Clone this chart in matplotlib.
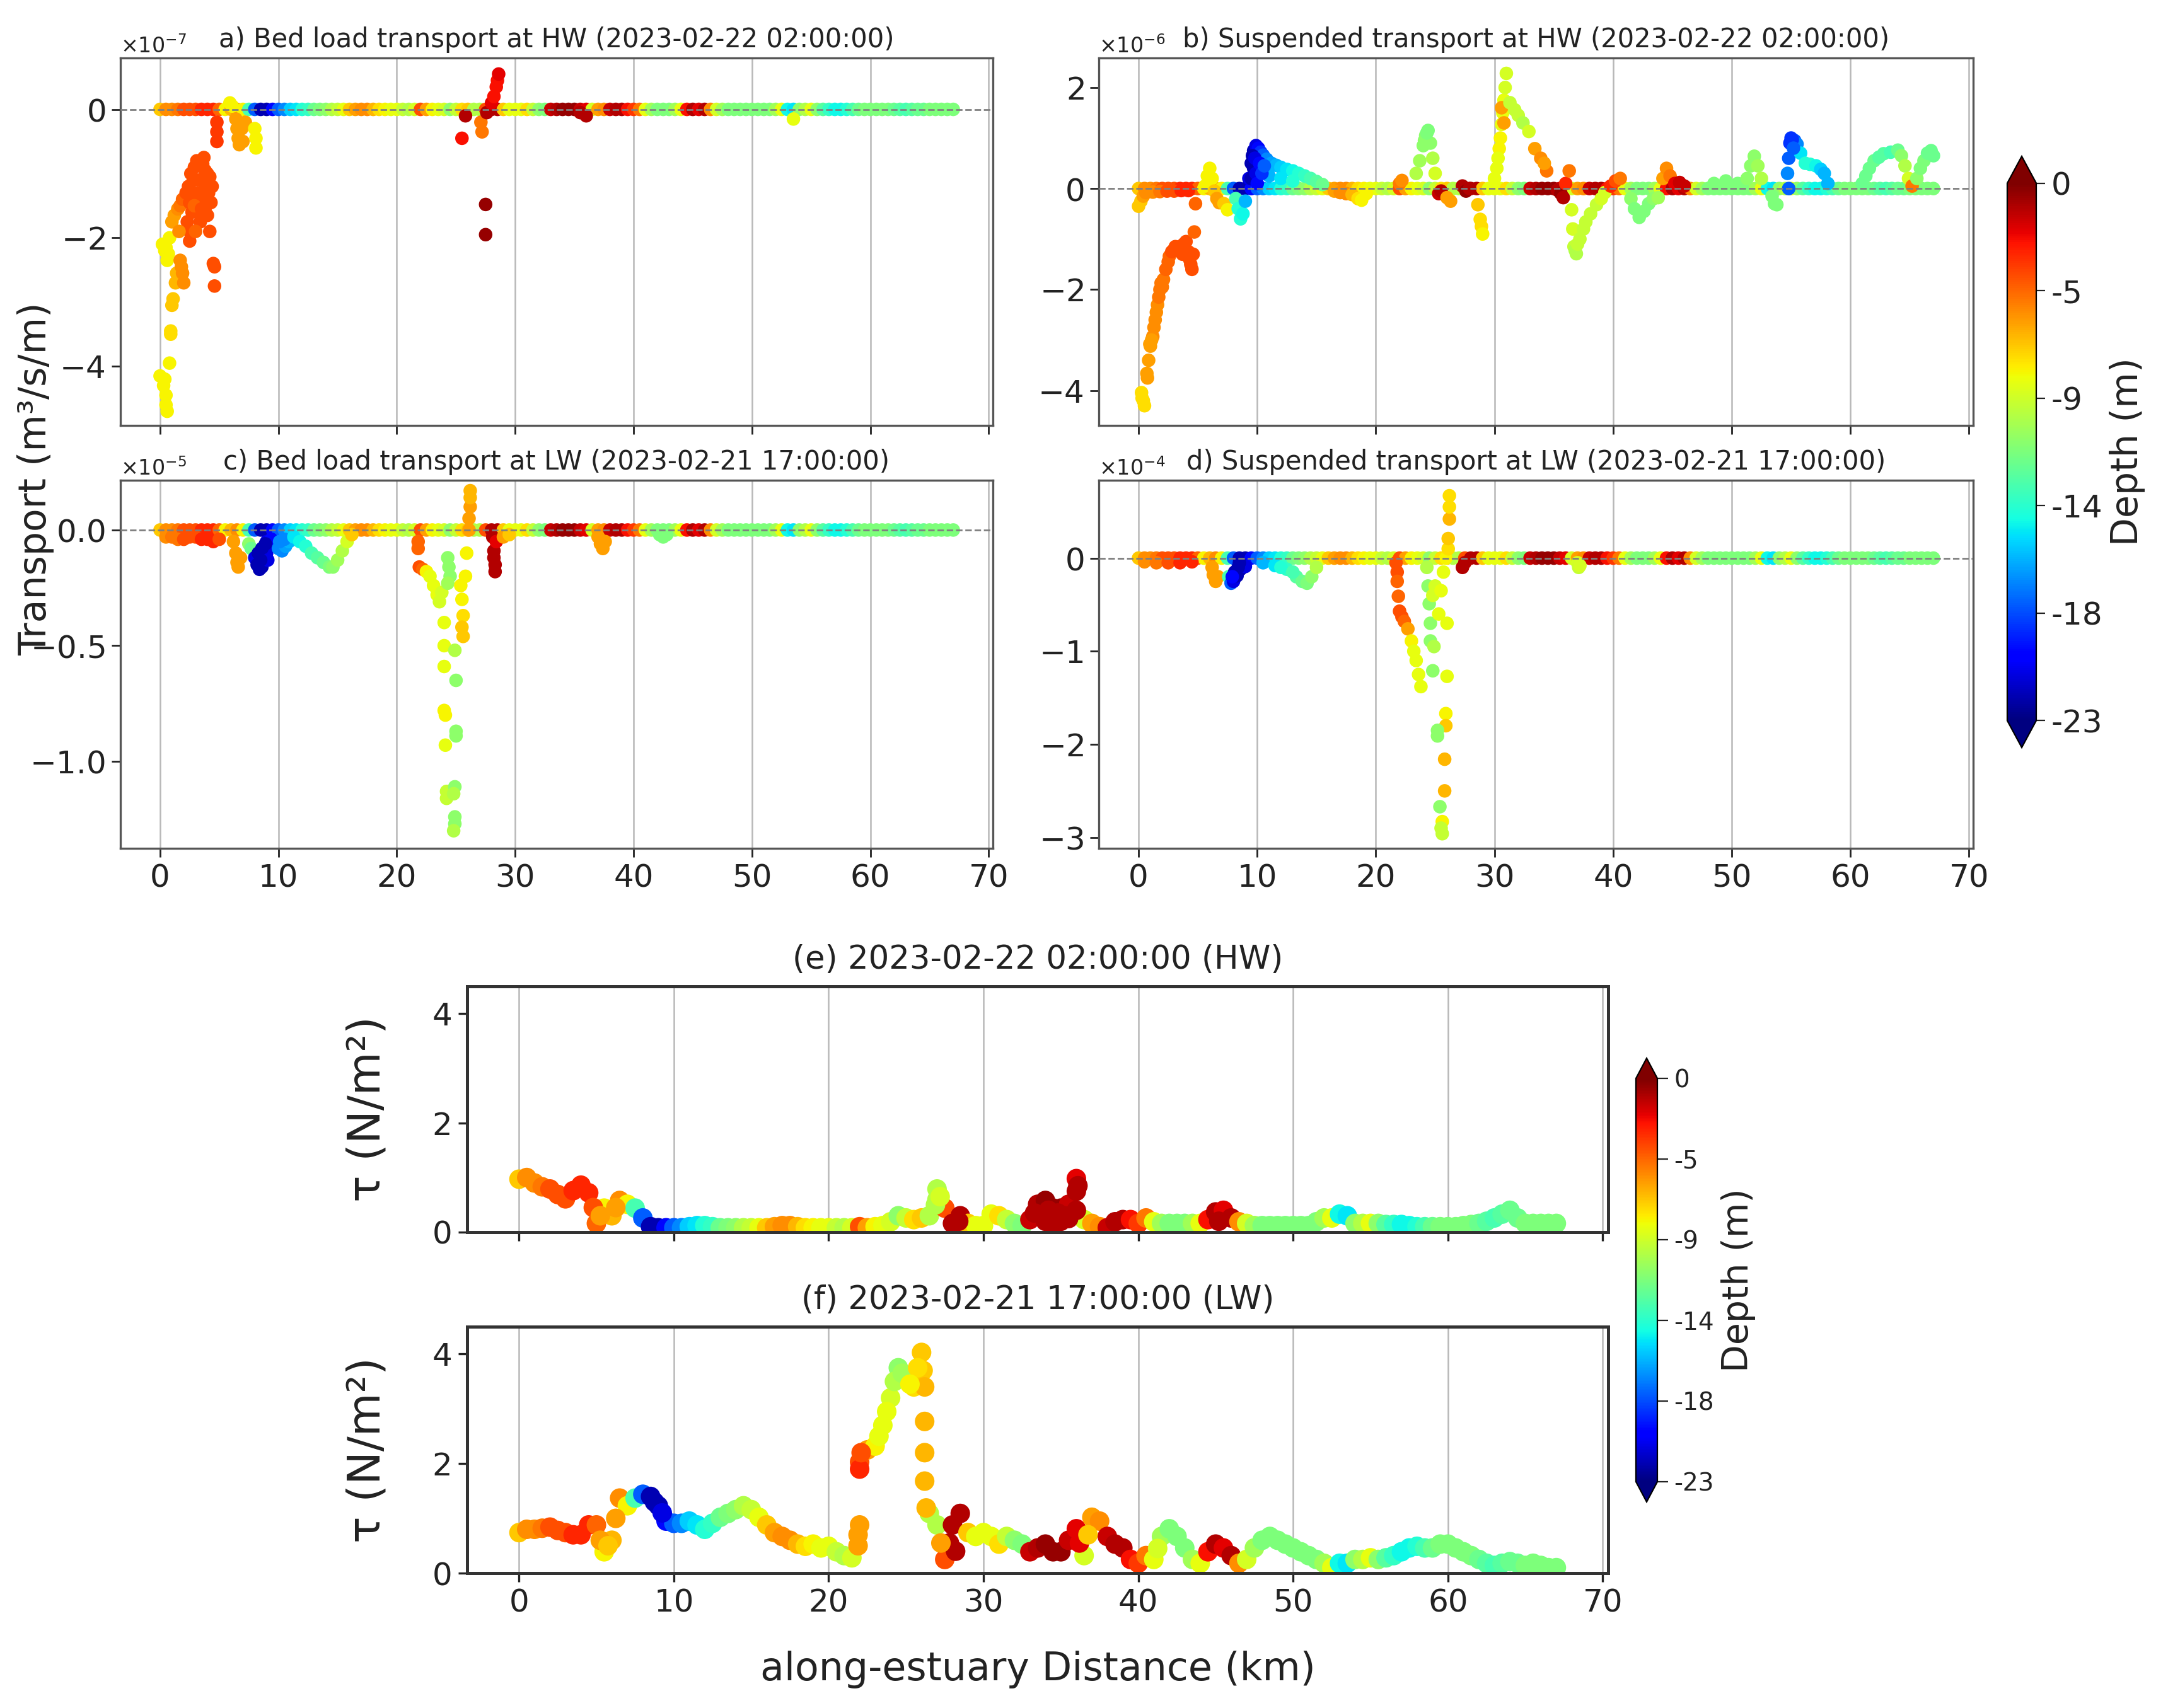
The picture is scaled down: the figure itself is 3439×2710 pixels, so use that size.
import numpy as np
import matplotlib
matplotlib.use("Agg")
import matplotlib.pyplot as plt
from matplotlib.colors import Normalize
from matplotlib.cm import ScalarMappable

# ---------------- data ----------------
dist_km = [0.0, 0.5, 1.0, 1.5, 2.0, 2.5, 3.0, 3.5, 4.0, 4.5, 5.0, 5.5, 6.0, 6.5, 7.0, 7.5, 8.0, 8.5, 9.0, 9.5,
           10.0, 10.5, 11.0, 11.5, 12.0, 12.5, 13.0, 13.5, 14.0, 14.5, 15.0, 15.5, 16.0, 16.5, 17.0, 17.5, 18.0, 18.5, 19.0, 19.5,
           20.0, 20.5, 21.0, 21.5, 22.0, 22.5, 23.0, 23.5, 24.0, 24.5, 25.0, 25.5, 26.0, 26.5, 27.0, 27.5, 28.0, 28.5, 29.0, 29.5,
           30.0, 30.5, 31.0, 31.5, 32.0, 32.5, 33.0, 33.5, 34.0, 34.5, 35.0, 35.5, 36.0, 36.5, 37.0, 37.5, 38.0, 38.5, 39.0, 39.5,
           40.0, 40.5, 41.0, 41.5, 42.0, 42.5, 43.0, 43.5, 44.0, 44.5, 45.0, 45.5, 46.0, 46.5, 47.0, 47.5, 48.0, 48.5, 49.0, 49.5,
           50.0, 50.5, 51.0, 51.5, 52.0, 52.5, 53.0, 53.5, 54.0, 54.5, 55.0, 55.5, 56.0, 56.5, 57.0, 57.5, 58.0, 58.5, 59.0, 59.5,
           60.0, 60.5, 61.0, 61.5, 62.0, 62.5, 63.0, 63.5, 64.0, 64.5, 65.0, 65.5, 66.0, 66.5, 67.0]

depth_m = [-7, -5.5, -5.5, -5, -4, -4, -4, -3, -3, -3, -4.5, -8, -6.5, -5.5, -8, -13, -18, -22, -22, -20,
           -18, -17, -15.5, -15, -14, -13.5, -12, -11.5, -11, -10, -9.5, -8.5, -7, -6, -5.5, -5.5, -6.5, -7.5, -8, -8.5,
           -8.5, -9.5, -10, -9, -4, -6, -8, -8.5, -9, -11, -9.5, -7.5, -7, -10, -10, -4, -1, -1, -7, -8.5,
           -8.5, -8.5, -7.5, -9.5, -11, -11.5, -1.5, -1, -0.5, -0.5, -0.5, -1.5, -2, -9, -6, -5.5, -1.5, -1, -1, -2.5,
           -3.5, -5, -8.5, -10.5, -11.5, -11.5, -11.5, -10.5, -8.5, -2.5, -1, -2, -1, -5.5, -9, -10.5, -11.5, -11.5, -11.5, -11.5,
           -11.5, -11.5, -11.5, -11.5, -10.5, -8.5, -14.5, -15, -11, -10, -8.5, -11, -12.5, -13.5, -14.5, -14.5, -14, -13, -12, -11.5,
           -11.5, -11.5, -11.5, -11.5, -12, -12.5, -13, -12.5, -12, -12, -11.5, -11.5, -11.5, -11.5, -11.5]

# bed shear stress (N/m2) along the grid
tau_hw = [0.97, 1.00, 0.90, 0.83, 0.79, 0.69, 0.61, 0.76, 0.86, 0.72, 0.16, 0.44, 0.30, 0.58, 0.51, 0.44, 0.26, 0.10, 0.08, 0.08,
          0.08, 0.08, 0.10, 0.12, 0.12, 0.10, 0.08, 0.08, 0.08, 0.08, 0.08, 0.08, 0.08, 0.10, 0.12, 0.12, 0.10, 0.08, 0.08, 0.08,
          0.08, 0.08, 0.08, 0.08, 0.10, 0.08, 0.10, 0.12, 0.19, 0.30, 0.26, 0.23, 0.26, 0.30, 0.79, 0.44, 0.16, 0.30, 0.16, 0.12,
          0.12, 0.33, 0.30, 0.23, 0.16, 0.12, 0.23, 0.51, 0.58, 0.44, 0.44, 0.51, 0.98, 0.23, 0.16, 0.10, 0.08, 0.19, 0.23, 0.23,
          0.16, 0.26, 0.19, 0.16, 0.16, 0.16, 0.16, 0.16, 0.16, 0.23, 0.37, 0.40, 0.26, 0.19, 0.16, 0.12, 0.12, 0.12, 0.12, 0.12,
          0.12, 0.12, 0.12, 0.19, 0.26, 0.26, 0.33, 0.30, 0.16, 0.16, 0.16, 0.16, 0.14, 0.14, 0.14, 0.12, 0.10, 0.10, 0.10, 0.10,
          0.10, 0.10, 0.12, 0.14, 0.16, 0.20, 0.26, 0.33, 0.40, 0.26, 0.16, 0.16, 0.16, 0.16, 0.16]

tau_lw = [0.74, 0.80, 0.80, 0.82, 0.84, 0.78, 0.74, 0.70, 0.70, 0.88, 0.88, 0.39, 0.60, 1.37, 1.23, 1.37, 1.44, 1.40, 1.23, 0.95,
          0.91, 0.91, 0.95, 0.88, 0.80, 0.91, 1.02, 1.09, 1.16, 1.23, 1.16, 1.02, 0.88, 0.74, 0.67, 0.60, 0.53, 0.49, 0.53, 0.46,
          0.49, 0.39, 0.32, 0.28, 2.03, 2.25, 2.32, 2.70, 3.20, 3.75, 3.54, 3.40, 4.03, 1.09, 0.88, 0.25, 0.88, 1.09, 0.74, 0.67,
          0.74, 0.67, 0.53, 0.67, 0.60, 0.53, 0.39, 0.46, 0.53, 0.39, 0.39, 0.60, 0.81, 0.32, 1.02, 0.95, 0.67, 0.53, 0.46, 0.25,
          0.18, 0.32, 0.25, 0.67, 0.81, 0.67, 0.46, 0.25, 0.18, 0.39, 0.53, 0.46, 0.32, 0.18, 0.25, 0.46, 0.60, 0.67, 0.60, 0.53,
          0.46, 0.39, 0.32, 0.25, 0.18, 0.10, 0.18, 0.18, 0.25, 0.25, 0.28, 0.25, 0.28, 0.32, 0.39, 0.46, 0.49, 0.46, 0.46, 0.53,
          0.53, 0.46, 0.39, 0.32, 0.25, 0.18, 0.14, 0.18, 0.21, 0.18, 0.14, 0.18, 0.14, 0.10, 0.10]

# extra points (distance km, tau, depth)
tau_hw_extra = [(36.0, 0.75, -1), (36.1, 0.85, -1), (27.0, 0.6, -10), (34.0, 0.2, -1), (34.5, 0.15, -1),
                (35.0, 0.2, -1), (35.5, 0.25, -1), (36.0, 0.4, -1), (28.4, 0.2, -1), (45.2, 0.2, -1),
                (4.8, 0.45, -4), (5.25, 0.3, -6), (6.25, 0.45, -6), (33.3, 0.35, -1), (34.2, 0.4, -1),
                (34.8, 0.35, -1), (35.2, 0.3, -1), (26.9, 0.5, -10), (27.2, 0.65, -9)]
tau_lw_extra = [(21.9, 0.5, -6), (21.9, 0.7, -6), (22.0, 0.88, -6), (22.0, 1.9, -3), (22.1, 2.2, -4),
                (26.1, 3.7, -7), (26.2, 3.4, -6.5), (26.2, 2.77, -6.5), (26.2, 2.2, -6.5), (26.2, 1.68, -6.5),
                (26.3, 1.19, -6.5), (27.8, 0.55, -1), (28.2, 0.4, -1), (36.2, 0.55, -2),
                (23.25, 2.5, -8.5), (23.75, 2.95, -8.5), (24.25, 3.5, -10), (24.75, 3.65, -10.5),
                (25.75, 3.75, -7.5), (25.25, 3.45, -8), (5.25, 0.6, -6), (5.75, 0.5, -7), (6.25, 1.0, -6),
                (27.25, 0.55, -6), (8.75, 1.3, -22), (9.25, 1.1, -21), (36.75, 0.7, -7), (41.25, 0.45, -9)]

# transport excursions away from zero: (distance km, value in units of the panel scale, depth m)
bed_hw_scale = 1e-7
bed_hw_pts = [(0.0, -4.15, -8), (0.3, -4.3, -8), (0.5, -4.45, -8), (0.5, -4.6, -8), (0.6, -4.7, -8), (0.4, -4.2, -8),
              (0.8, -3.95, -8), (0.9, -3.5, -7.5), (0.9, -3.45, -7.5), (1.0, -3.05, -7), (1.1, -2.95, -7),
              (1.3, -2.7, -6.5), (1.4, -2.55, -6.5), (0.2, -2.1, -8), (0.4, -2.2, -8), (0.6, -2.35, -8),
              (0.7, -2.25, -8), (0.8, -2.0, -8), (0.5, -2.15, -8), (1.0, -1.75, -6), (1.2, -1.65, -6),
              (1.5, -1.55, -5.5), (1.7, -1.5, -5), (1.9, -1.4, -4.5), (1.7, -2.35, -5.5), (1.9, -2.55, -5.5),
              (2.0, -2.7, -5.5), (1.8, -2.45, -5.5), (2.2, -1.3, -4), (2.4, -1.2, -4), (2.5, -1.45, -4),
              (2.6, -1.0, -4), (2.8, -1.1, -4), (2.9, -0.9, -4), (3.0, -1.3, -4), (3.1, -0.8, -4), (3.2, -1.6, -4),
              (3.3, -1.1, -4), (3.4, -1.75, -4), (3.5, -1.35, -4), (3.6, -0.85, -4), (3.7, -0.75, -4),
              (3.8, -1.2, -4), (3.9, -1.5, -4), (4.0, -1.0, -4), (4.1, -1.3, -4), (4.2, -1.05, -4), (4.3, -1.45, -4),
              (4.4, -1.2, -4), (2.7, -1.6, -4), (2.9, -1.5, -4.5), (3.5, -1.55, -4), (2.5, -1.9, -4), (2.5, -2.05, -4),
              (4.2, -1.9, -4), (4.5, -2.4, -4), (4.6, -2.45, -4), (4.6, -2.75, -4), (4.8, -0.2, -3.5),
              (4.8, -0.35, -3.5), (4.8, -0.5, -3.5), (5.9, 0.1, -8), (6.1, 0.05, -8), (6.4, -0.15, -6),
              (6.5, -0.3, -6), (6.6, -0.45, -6), (6.7, -0.55, -6), (6.9, -0.3, -6), (7.0, -0.5, -6), (7.2, -0.2, -6),
              (8.0, -0.3, -8), (8.1, -0.45, -8), (8.1, -0.6, -8), (25.5, -0.45, -2.5), (25.8, -0.1, -1),
              (27.1, -0.2, -5), (27.2, -0.35, -5), (27.5, -1.48, -0.5), (27.5, -1.95, -0.5), (27.6, -0.05, -1),
              (28.0, 0.1, -2), (28.2, 0.2, -2.5), (28.4, 0.35, -2.5), (28.5, 0.45, -2.5), (28.6, 0.55, -2),
              (35.5, -0.05, -1), (36.0, -0.1, -1), (53.5, -0.15, -8.5),
              (2.3, -1.75, -4), (3.0, -1.9, -4.5), (3.8, -0.95, -4), (4.0, -1.65, -4), (1.6, -1.9, -5.5)]

sus_hw_scale = 1e-6
sus_hw_pts = [(0.0, -0.35, -7), (0.2, -0.25, -7), (0.4, -0.15, -6), (0.25, -4.04, -7.5), (0.4, -4.2, -7.5),
              (0.5, -4.3, -7.5), (0.3, -4.15, -7.5), (0.7, -3.66, -6), (0.75, -3.75, -6), (0.95, -3.08, -6),
              (1.0, -3.12, -6), (1.2, -2.93, -5.5), (1.3, -2.75, -5.5), (1.4, -2.6, -5.5), (1.5, -2.45, -5.5),
              (1.6, -2.3, -5.5), (1.7, -2.15, -5), (1.8, -2.0, -5), (1.9, -1.87, -5), (2.0, -1.95, -5),
              (2.1, -1.8, -5), (2.3, -1.6, -4.5), (2.5, -1.45, -4.5), (2.6, -1.34, -4.5), (2.8, -1.25, -4),
              (3.0, -1.2, -4), (3.1, -1.15, -4), (3.3, -1.2, -4), (3.5, -1.15, -4), (3.7, -1.3, -4), (3.8, -1.1, -4),
              (4.0, -1.05, -4), (4.2, -1.25, -4), (4.3, -1.4, -4), (4.4, -1.5, -4), (4.5, -1.6, -4), (4.6, -1.3, -4),
              (4.7, -0.86, -4.5), (4.8, -0.3, -4.5), (0.6, -0.08, -5.5), (1.2, -0.07, -5.5), (1.8, -0.06, -5),
              (2.4, -0.05, -4), (3.0, -0.05, -4), (3.6, -0.04, -3), (4.2, -0.04, -3),
              (5.6, 0.05, -8), (5.8, 0.25, -8), (6.0, 0.4, -8), (6.2, 0.2, -8), (6.4, -0.05, -7), (6.6, -0.2, -6),
              (6.8, -0.28, -6), (7.2, -0.3, -7), (7.5, -0.42, -8), (8.2, -0.2, -13), (8.4, -0.4, -14),
              (8.6, -0.6, -14), (8.8, -0.5, -14.5), (9.0, -0.25, -16), (9.3, 0.2, -21), (9.5, 0.5, -22),
              (9.7, 0.75, -22), (9.9, 0.85, -21), (10.1, 0.8, -20), (10.3, 0.72, -19), (10.5, 0.66, -18),
              (9.5, 0.2, -22), (9.7, 0.4, -22), (9.9, 0.3, -21), (10.0, 0.1, -20), (10.8, 0.58, -17),
              (11.2, 0.5, -16.5), (11.6, 0.46, -16), (12.0, 0.42, -15.5), (12.5, 0.38, -15), (13.0, 0.35, -14.5),
              (13.5, 0.3, -14), (14.0, 0.25, -13.5), (14.5, 0.2, -13), (15.0, 0.14, -12.5), (15.5, 0.08, -12),
              (11.0, 0.25, -16), (12.0, 0.2, -15), (13.0, 0.15, -14), (16.5, -0.05, -6), (17.0, -0.08, -5.5),
              (17.5, -0.1, -5.5), (18.0, -0.12, -6.5), (18.5, -0.2, -7.5), (18.8, -0.23, -8), (19.2, -0.1, -8),
              (22.0, 0.1, -5), (22.2, 0.16, -5.5), (23.4, 0.3, -10), (23.7, 0.55, -10.5), (24.0, 0.85, -11),
              (24.2, 1.05, -11), (24.4, 1.15, -11.5), (24.6, 0.9, -11), (24.8, 0.6, -10), (25.0, 0.3, -9),
              (25.3, -0.1, -1.5), (25.5, -0.05, -1), (26.0, -0.18, -6), (26.3, -0.25, -6), (27.3, 0.05, -1),
              (27.6, -0.05, -0.5), (27.9, 0.0, -1), (28.6, -0.32, -7), (28.8, -0.61, -7.5), (28.9, -0.75, -7.5),
              (29.0, -0.9, -8), (30.0, 0.2, -8.5), (30.2, 0.4, -8.5), (30.4, 0.79, -8), (30.5, 1.0, -8),
              (30.6, 1.27, -8.5), (30.7, 1.5, -8.5), (30.8, 1.75, -8.5), (30.9, 2.0, -9), (31.0, 2.28, -9),
              (30.6, 1.6, -6), (30.8, 1.3, -6), (31.3, 1.7, -9.5), (31.7, 1.56, -9.5), (32.0, 1.45, -9.5),
              (32.4, 1.3, -10), (32.9, 1.13, -9), (33.4, 0.79, -6), (33.9, 0.6, -5.5), (34.4, 0.35, -5),
              (34.2, 0.5, -6), (35.3, -0.03, -1), (35.6, -0.1, -0.5), (35.8, -0.18, -1), (36.0, 0.1, -3),
              (36.3, 0.35, -5), (36.5, -0.42, -9), (36.6, -0.8, -9), (36.7, -1.15, -9.5), (36.9, -1.29, -10),
              (37.2, -1.0, -9.5), (37.5, -0.8, -9.5), (37.7, -0.66, -9.5), (38.1, -0.5, -9.5), (38.6, -0.32, -9.5),
              (39.0, -0.2, -9), (39.3, -0.08, -9), (39.8, 0.05, -3), (40.2, 0.15, -4), (40.6, 0.2, -5),
              (41.5, -0.2, -11), (41.8, -0.4, -11.5), (42.2, -0.57, -11.5), (42.6, -0.45, -11.5), (43.0, -0.3, -11.5),
              (43.4, -0.2, -11), (43.8, -0.18, -10.5), (44.2, 0.2, -6), (44.5, 0.4, -5.5), (44.8, 0.25, -5),
              (45.2, 0.1, -2), (45.6, 0.12, -1.5), (46.0, 0.05, -1.5), (48.5, 0.1, -11.5), (49.5, 0.15, -11.5),
              (50.5, 0.1, -11.5), (51.3, 0.2, -11), (51.6, 0.45, -11), (51.9, 0.64, -11), (52.2, 0.45, -10.5),
              (52.5, 0.2, -10), (53.4, -0.15, -11.5), (53.6, -0.3, -11.5), (53.8, -0.32, -11.5), (54.7, 0.3, -17),
              (54.8, 0.6, -18), (54.9, 0.9, -19), (55.0, 1.0, -19), (55.3, 0.95, -18), (55.5, 0.88, -17),
              (55.8, 0.7, -15), (56.2, 0.5, -14), (56.6, 0.48, -14), (57.1, 0.45, -14.5), (57.5, 0.38, -15.5),
              (57.8, 0.3, -16), (58.1, 0.1, -16), (54.8, 0.0, -18), (61.0, 0.1, -12), (61.3, 0.25, -12),
              (61.6, 0.4, -12), (62.0, 0.55, -12), (62.4, 0.62, -12.5), (62.8, 0.69, -12.5), (63.4, 0.72, -13),
              (64.0, 0.76, -12), (64.3, 0.65, -11), (64.6, 0.45, -10), (64.9, 0.2, -9), (65.2, 0.05, -5),
              (65.6, 0.2, -11), (65.9, 0.4, -11.5), (66.2, 0.55, -11.5), (66.5, 0.7, -12), (66.8, 0.75, -12),
              (67.0, 0.65, -12), (1.1, -3.0, -6), (0.85, -3.4, -6), (9.6, 0.65, -22), (9.8, 0.6, -21),
              (10.2, 0.5, -20), (10.4, 0.3, -19), (10.6, 0.45, -18), (24.1, 0.95, -11), (24.3, 1.1, -11.5),
              (30.3, 0.6, -8.5), (36.8, -1.22, -10), (37.0, -1.1, -9.5), (55.1, 0.97, -19), (55.2, 0.8, -18)]

bed_lw_scale = 1e-5
bed_lw_pts = [(0.5, -0.03, -5.5), (1.0, -0.03, -5), (1.5, -0.04, -5), (2.0, -0.04, -4), (2.5, -0.03, -4),
              (3.0, -0.03, -4), (3.5, -0.04, -3), (4.0, -0.04, -3), (4.5, -0.05, -3), (5.0, -0.04, -4),
              (6.2, -0.05, -6), (6.4, -0.1, -6), (6.5, -0.14, -6), (6.6, -0.16, -6), (6.8, -0.12, -6),
              (7.5, -0.06, -11), (7.7, -0.08, -12), (8.0, -0.12, -21), (8.2, -0.15, -22), (8.4, -0.17, -22),
              (8.6, -0.16, -22), (8.8, -0.12, -22), (9.0, -0.1, -21), (9.2, -0.07, -21), (8.6, -0.08, -22),
              (9.0, -0.05, -21), (9.4, -0.04, -20), (10.0, -0.08, -17), (10.3, -0.09, -17), (10.6, -0.07, -16.5),
              (10.9, -0.05, -16), (10.5, -0.04, -17), (11.3, -0.03, -15), (11.8, -0.05, -14.5), (12.3, -0.07, -14),
              (12.8, -0.1, -13), (13.3, -0.12, -12.5), (13.8, -0.14, -12), (14.3, -0.16, -11.5), (14.6, -0.16, -11),
              (15.0, -0.13, -10.5), (15.4, -0.09, -10), (15.8, -0.05, -9), (16.2, -0.02, -7),
              (21.8, -0.05, -4.5), (21.8, -0.08, -4.5), (21.9, -0.16, -4), (22.2, -0.17, -4.5),
              (22.5, -0.18, -8), (22.8, -0.2, -8.5), (23.1, -0.24, -8.5), (23.4, -0.28, -8.5), (23.6, -0.31, -9),
              (23.8, -0.27, -9), (24.3, -0.12, -11), (24.4, -0.16, -11), (24.5, -0.2, -11), (24.3, -0.23, -10.5),
              (24.0, -0.40, -8.5), (24.0, -0.50, -8.5), (24.0, -0.59, -8.5), (24.0, -0.78, -8), (24.1, -0.80, -8),
              (24.1, -0.93, -8.5), (24.2, -1.13, -9.5), (24.2, -1.16, -9.5), (24.9, -0.52, -10), (25.0, -0.65, -11),
              (25.0, -0.87, -11), (25.0, -0.89, -11), (24.9, -1.11, -11), (24.8, -1.14, -10), (24.9, -1.24, -11),
              (24.9, -1.27, -11), (24.8, -1.30, -10), (25.4, -0.24, -8), (25.5, -0.3, -8), (25.6, -0.37, -7.5),
              (25.5, -0.42, -7), (25.6, -0.46, -7), (25.8, -0.2, -8), (25.9, -0.1, -8), (26.1, 0.0, -6),
              (26.1, 0.05, -6), (26.2, 0.1, -6), (26.2, 0.14, -6.5), (26.2, 0.17, -6.5), (28.1, -0.03, -1),
              (28.2, -0.09, -1), (28.2, -0.12, -1), (28.3, -0.15, -1), (28.3, -0.18, -1), (28.4, -0.05, -2),
              (29.0, -0.03, -6), (29.5, -0.02, -7), (37.0, -0.03, -6), (37.2, -0.06, -6), (37.4, -0.08, -6),
              (37.6, -0.05, -6), (42.2, -0.02, -11.5), (42.5, -0.03, -11.5), (42.8, -0.02, -11.5),
              (8.3, -0.1, -22), (8.9, -0.06, -22), (9.1, -0.13, -21), (8.5, -0.13, -22), (10.1, -0.05, -17)]

sus_lw_scale = 1e-4
sus_lw_pts = [(0.5, -0.04, -5.5), (1.5, -0.05, -5), (2.5, -0.05, -4), (3.5, -0.05, -3), (4.5, -0.04, -3),
              (6.2, -0.1, -6), (6.3, -0.18, -6), (6.5, -0.25, -6), (6.7, -0.2, -6), (7.6, -0.2, -13),
              (7.8, -0.27, -18), (8.0, -0.25, -21), (8.3, -0.19, -22), (8.6, -0.12, -22), (9.0, -0.09, -21),
              (8.5, -0.05, -22), (10.5, -0.05, -16), (11.5, -0.08, -15), (12.5, -0.12, -13.5), (13.3, -0.2, -12.5),
              (13.8, -0.25, -12), (14.2, -0.27, -11.5), (14.6, -0.2, -11), (15.0, -0.1, -10),
              (21.7, -0.05, -4), (21.8, -0.15, -4), (21.8, -0.25, -4.5), (21.9, -0.41, -4.5), (22.0, -0.57, -4),
              (22.2, -0.63, -4), (22.4, -0.68, -4.5), (22.7, -0.76, -6), (23.0, -0.89, -8), (23.2, -1.0, -8.5),
              (23.4, -1.1, -8.5), (23.6, -1.25, -8.5), (23.8, -1.38, -8.5), (24.3, -0.1, -10), (24.4, -0.3, -11),
              (24.5, -0.49, -11), (24.6, -0.7, -11), (24.6, -0.89, -11), (24.8, -1.21, -11), (24.9, -0.95, -10),
              (24.8, -0.4, -9), (25.0, -0.3, -9), (25.3, -0.6, -8.5), (25.5, -0.35, -8.5), (25.7, -0.15, -8.5),
              (25.9, 0.0, -8), (26.1, 0.1, -7.5), (26.1, 0.21, -7), (26.2, 0.42, -6.5), (26.2, 0.55, -7.5),
              (26.2, 0.67, -7.5), (26.0, -0.7, -8.5), (26.0, -1.27, -8.5), (25.9, -1.67, -8), (25.9, -1.8, -7),
              (25.2, -1.91, -11), (25.2, -1.85, -11), (25.8, -2.16, -6.5), (25.8, -2.5, -6.5), (25.4, -2.67, -11),
              (25.6, -2.83, -8), (25.6, -2.96, -9.5), (25.5, -2.9, -9.5), (27.5, -0.05, -1), (27.3, -0.1, -1),
              (37.0, -0.05, -9), (37.1, -0.1, -9.5), (37.2, -0.08, -9),
              (8.1, -0.15, -22), (8.4, -0.1, -22), (12.0, -0.1, -14), (13.0, -0.15, -13), (7.9, -0.2, -20)]

cbar_ticks = [-23, -18.4, -13.8, -9.2, -4.6, 0]
cbar_ticklabels = ['-23', '-18', '-14', '-9', '-5', '0']

titles_top = ['a) Bed load transport at HW (2023-02-22 02:00:00)',
              'b) Suspended transport at HW (2023-02-22 02:00:00)',
              'c) Bed load transport at LW (2023-02-21 17:00:00)',
              'd) Suspended transport at LW (2023-02-21 17:00:00)']
titles_bottom = ['(e) 2023-02-22 02:00:00 (HW)', '(f) 2023-02-21 17:00:00 (LW)']

# ---------------- figure ----------------
plt.rcParams['font.family'] = ['DejaVu Sans']
W, H = 3439, 2710
fig = plt.figure(figsize=(W / 200, H / 200), dpi=200)
norm = Normalize(vmin=-23, vmax=0)
cmap = 'jet'
XLIM = (-3.35, 70.35)
S_TOP = 60
S_BOT = 125

def frac(x0, y0, x1, y1):
    return [x0 / W, 1 - y1 / H, (x1 - x0) / W, (y1 - y0) / H]

ax_a = fig.add_axes(frac(191, 92, 1575, 675))
ax_b = fig.add_axes(frac(1743, 92, 3130, 675))
ax_c = fig.add_axes(frac(191, 762, 1575, 1346))
ax_d = fig.add_axes(frac(1743, 762, 3130, 1346))
ax_e = fig.add_axes(frac(741, 1565, 2551, 1955))
ax_f = fig.add_axes(frac(741, 2105, 2551, 2496))

top_specs = [(ax_a, bed_hw_pts, bed_hw_scale, (-4.92, 0.80)),
             (ax_b, sus_hw_pts, sus_hw_scale, (-4.69, 2.585)),
             (ax_c, bed_lw_pts, bed_lw_scale, (-1.376, 0.215)),
             (ax_d, sus_lw_pts, sus_lw_scale, (-3.117, 0.836))]

for i, (ax, pts, sc, yl) in enumerate(top_specs):
    ax.scatter(dist_km, np.zeros(len(dist_km)), c=depth_m, cmap=cmap, norm=norm,
               s=S_TOP, linewidths=0, zorder=2)
    px = [p[0] for p in pts]
    py = [p[1] * sc for p in pts]
    pd_ = [p[2] for p in pts]
    ax.scatter(px, py, c=pd_, cmap=cmap, norm=norm, s=S_TOP, linewidths=0, zorder=2)
    ax.axhline(0, color='#7f7f7f', ls='--', lw=1.0, zorder=3)
    ax.set_xlim(*XLIM)
    ax.set_ylim(yl[0] * sc, yl[1] * sc)
    ax.ticklabel_format(axis='y', style='sci', scilimits=(0, 0), useMathText=True)
    ax.yaxis.get_offset_text().set_fontsize(12)
    ax.yaxis.get_offset_text().set_color('#333333')
    ax.set_xticks([0, 10, 20, 30, 40, 50, 60, 70])
    ax.grid(axis='x', color='#b8b8b8', lw=0.9)
    ax.set_axisbelow(True)
    ax.tick_params(labelsize=18, length=5, width=1.0, colors='#222222')
    for sp in ax.spines.values():
        sp.set_color('#555555')
        sp.set_linewidth(1.2)
    ax.set_title(titles_top[i], fontsize=15, color='#222222', pad=6)
    if i < 2:
        ax.tick_params(labelbottom=False)

bottom_specs = [(ax_e, tau_hw, tau_hw_extra, titles_bottom[0]),
                (ax_f, tau_lw, tau_lw_extra, titles_bottom[1])]
for j, (ax, tau, extra, ttl) in enumerate(bottom_specs):
    ax.scatter(dist_km, tau, c=depth_m, cmap=cmap, norm=norm, s=S_BOT, linewidths=0, zorder=2)
    ax.scatter([p[0] for p in extra], [p[1] for p in extra], c=[p[2] for p in extra],
               cmap=cmap, norm=norm, s=S_BOT, linewidths=0, zorder=2)
    ax.set_xlim(*XLIM)
    ax.set_ylim(0, 4.5)
    ax.set_xticks([0, 10, 20, 30, 40, 50, 60, 70])
    ax.set_yticks([0, 2, 4])
    ax.grid(axis='x', color='#b8b8b8', lw=0.9)
    ax.set_axisbelow(True)
    ax.tick_params(labelsize=18, length=5, width=1.2, colors='#222222')
    for sp in ax.spines.values():
        sp.set_color('#333333')
        sp.set_linewidth(1.8)
    ax.set_title(ttl, fontsize=18.5, color='#222222', pad=10)
    ax.set_ylabel('τ (N/m²)', fontsize=25.5, color='#222222')
    ax.yaxis.set_label_coords(-0.068, 0.5)
    if j == 0:
        ax.tick_params(labelbottom=False)

fig.text(0.0166, 0.7196, 'Transport (m³/s/m)', rotation=90, fontsize=21.6,
         ha='center', va='center', color='#222222')
fig.text(0.4786, 0.0225, 'along-estuary Distance (km)', fontsize=22.3,
         ha='center', va='center', color='#222222')

sm = ScalarMappable(norm=norm, cmap=cmap)
sm.set_array([])

cax1 = fig.add_axes(frac(3184, 248, 3230, 1186))
cb1 = fig.colorbar(sm, cax=cax1, extend='both', ticks=cbar_ticks)
cb1.ax.set_yticklabels(cbar_ticklabels)
cb1.ax.tick_params(labelsize=18, length=5, colors='#222222')
cb1.set_label('Depth (m)', fontsize=21, color='#222222')
cb1.outline.set_linewidth(0.8)

cax2 = fig.add_axes(frac(2595, 1679, 2629, 2383))
cb2 = fig.colorbar(sm, cax=cax2, extend='both', ticks=cbar_ticks)
cb2.ax.set_yticklabels(cbar_ticklabels)
cb2.ax.tick_params(labelsize=14, length=6, colors='#222222')
cb2.set_label('Depth (m)', fontsize=20.5, color='#222222')
cb2.outline.set_linewidth(0.8)

fig.savefig('out.png', dpi=200)
